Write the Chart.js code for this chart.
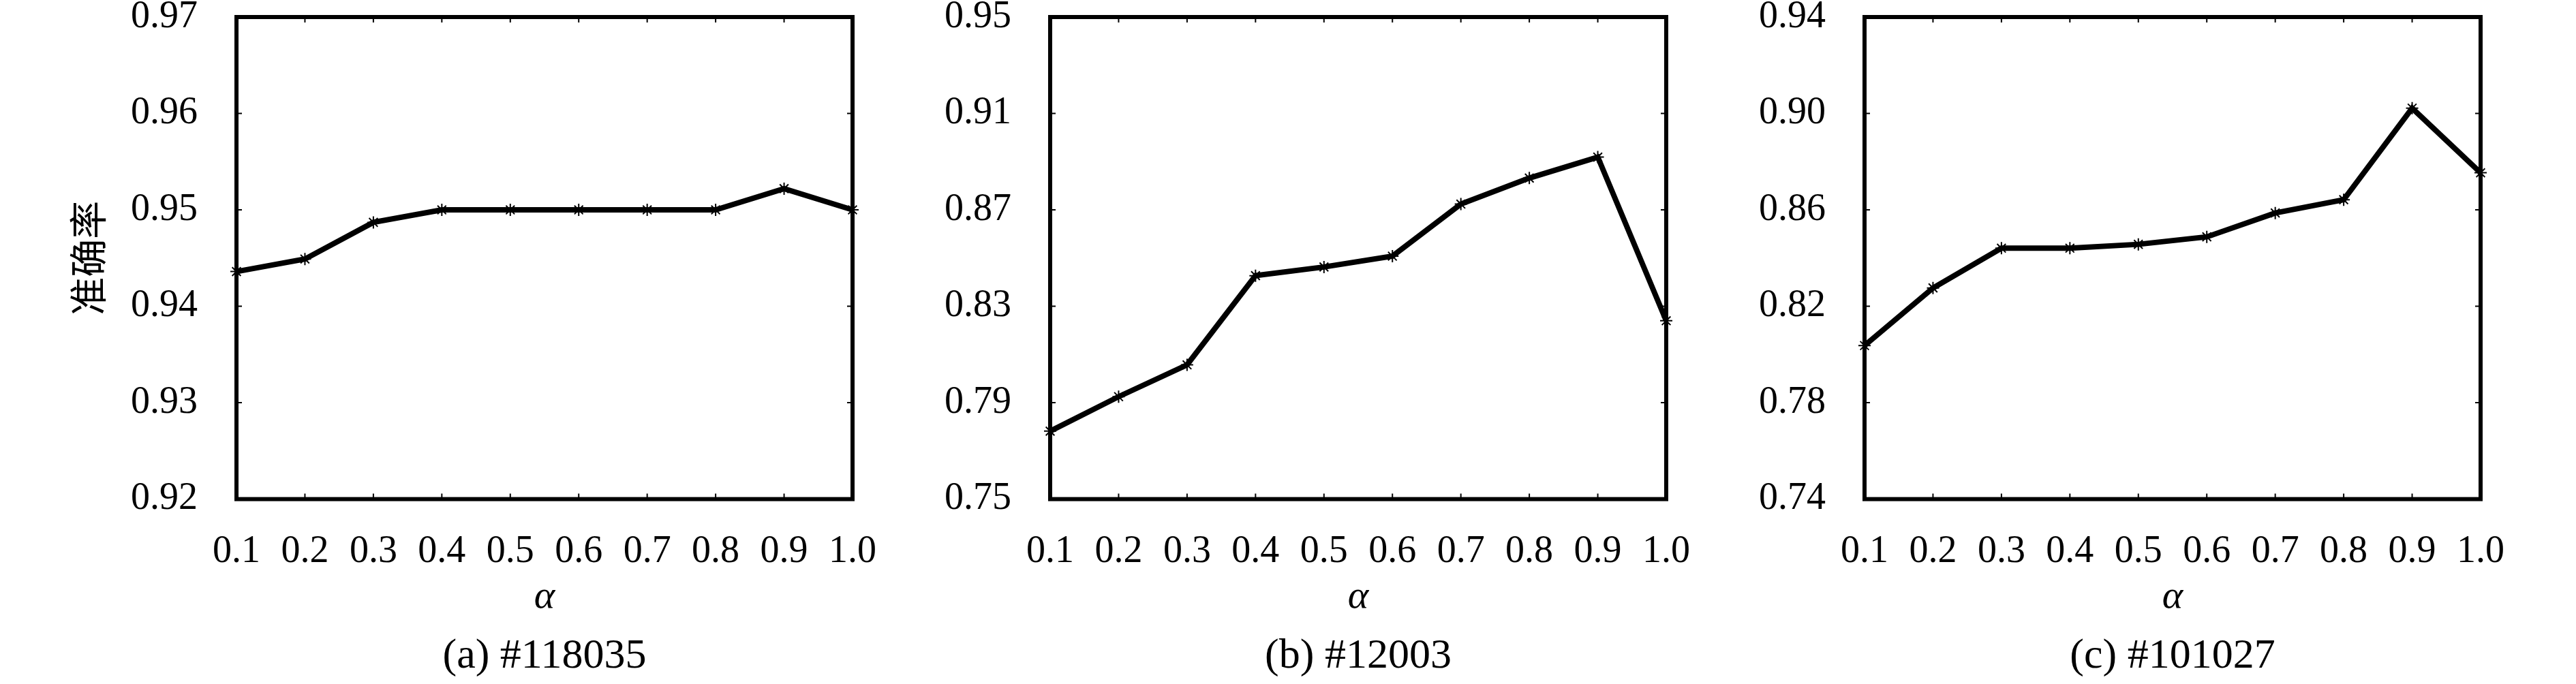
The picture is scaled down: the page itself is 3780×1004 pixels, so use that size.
<!DOCTYPE html>
<html>
<head>
<meta charset="utf-8">
<script src="https://cdn.jsdelivr.net/npm/chart.js@4"></script>
<style>
  html, body { margin: 0; padding: 0; background: #fff; }
  body { width: 3780px; height: 1004px; position: relative; overflow: hidden; }
  canvas { position: absolute; top: 0; }
</style>
</head>
<body>
<canvas id="chart-a" width="1320" height="1004" style="left:0;width:1320px;height:1004px"></canvas>
<canvas id="chart-b" width="1200" height="1004" style="left:1320px;width:1200px;height:1004px"></canvas>
<canvas id="chart-c" width="1260" height="1004" style="left:2520px;width:1260px;height:1004px"></canvas>
<script>
/* ---------- data ---------- */
const alphaLabels = ['0.1', '0.2', '0.3', '0.4', '0.5', '0.6', '0.7', '0.8', '0.9', '1.0'];

const accA = [0.9436, 0.9449, 0.9487, 0.950, 0.950, 0.950, 0.950, 0.950, 0.9522, 0.950];
const accB = [0.7782, 0.7925, 0.8057, 0.8427, 0.8463, 0.8508, 0.8724, 0.8832, 0.8919, 0.8240];
const accC = [0.8037, 0.8276, 0.8441, 0.8441, 0.8457, 0.8488, 0.8587, 0.8642, 0.9022, 0.8754];

const yTicksA = ['0.92', '0.93', '0.94', '0.95', '0.96', '0.97'];
const yTicksB = ['0.75', '0.79', '0.83', '0.87', '0.91', '0.95'];
const yTicksC = ['0.74', '0.78', '0.82', '0.86', '0.90', '0.94'];

const captions = ['(a) #118035', '(b) #12003', '(c) #101027'];

/* ---------- shared bits ---------- */
const SERIF = "'Liberation Serif', 'DejaVu Serif', serif";
const CJK = "'Noto Sans CJK SC', sans-serif";

// box round the plot plus small inward tick marks on all four sides
const framePlugin = {
  id: 'frame',
  afterDraw(chart) {
    const { ctx, chartArea: a, scales } = chart;
    const tl = 8;
    ctx.save();
    ctx.strokeStyle = '#000';
    ctx.lineWidth = 2;
    ctx.beginPath();
    scales.x.ticks.forEach((t, i) => {
      const px = scales.x.getPixelForTick(i);
      ctx.moveTo(px, a.bottom); ctx.lineTo(px, a.bottom - tl);
      ctx.moveTo(px, a.top); ctx.lineTo(px, a.top + tl);
    });
    scales.y.ticks.forEach(t => {
      const py = scales.y.getPixelForValue(t.value);
      ctx.moveTo(a.left, py); ctx.lineTo(a.left + tl, py);
      ctx.moveTo(a.right, py); ctx.lineTo(a.right - tl, py);
    });
    ctx.stroke();
    ctx.lineWidth = 6;
    ctx.lineJoin = 'miter';
    ctx.strokeRect(a.left, a.top, a.right - a.left, a.bottom - a.top);
    ctx.restore();
  }
};

function makePanel(id, values, yTicks, caption, yWidth, padRight, showYTitle) {
  return new Chart(document.getElementById(id), {
    type: 'line',
    data: {
      labels: alphaLabels,
      datasets: [{
        data: values,
        borderColor: '#000',
        backgroundColor: '#000',
        borderWidth: 8,
        tension: 0,
        pointStyle: 'star',
        pointRadius: 9,
        pointBorderWidth: 2,
        pointBorderColor: '#000',
        clip: false
      }]
    },
    options: {
      responsive: false,
      devicePixelRatio: 1,
      animation: false,
      layout: { padding: { left: 0, right: padRight, top: 25, bottom: 0 } },
      plugins: {
        legend: { display: false },
        tooltip: { enabled: false },
        title: {
          display: true,
          position: 'bottom',
          fullSize: false,          // centre caption under the plot box
          text: caption,
          color: '#000',
          font: { family: SERIF, size: 62, weight: 'normal' },
          padding: { top: 0, bottom: 3 }
        }
      },
      scales: {
        x: {
          type: 'category',
          offset: false,
          grid: { display: false },
          border: { display: false },
          ticks: {
            color: '#000',
            font: { family: SERIF, size: 56 },
            padding: 36,
            maxRotation: 0,
            autoSkip: false
          },
          title: {
            display: true,
            text: 'α',
            color: '#000',
            font: { family: SERIF, size: 58, style: 'italic' },
            padding: { top: 0, bottom: 15 }
          },
          afterFit(s) {
            s.height = 194;
            s.paddingLeft = 0;
            s.paddingRight = 0;
          }
        },
        y: {
          min: +yTicks[0],
          max: +yTicks[yTicks.length - 1],
          grid: { display: false },
          border: { display: false },
          afterBuildTicks(s) {
            s.ticks = yTicks.map(v => ({ value: +v }));
          },
          ticks: {
            color: '#000',
            font: { family: SERIF, size: 56 },
            padding: 49,
            callback: (v, i) => yTicks[i]
          },
          title: {
            display: showYTitle,
            text: '准确率',
            color: '#000',
            font: { family: CJK, size: 56, weight: 'normal' },
            padding: { top: 95, bottom: 0 }
          },
          afterFit(s) {
            s.width = yWidth;
            s.paddingTop = 0;
            s.paddingBottom = 0;
          }
        }
      }
    },
    plugins: [framePlugin]
  });
}

makePanel('chart-a', accA, yTicksA, captions[0], 347, 69, true);
makePanel('chart-b', accB, yTicksB, captions[1], 221, 75, false);
makePanel('chart-c', accC, yTicksC, captions[2], 216, 140, false);
</script>
</body>
</html>
